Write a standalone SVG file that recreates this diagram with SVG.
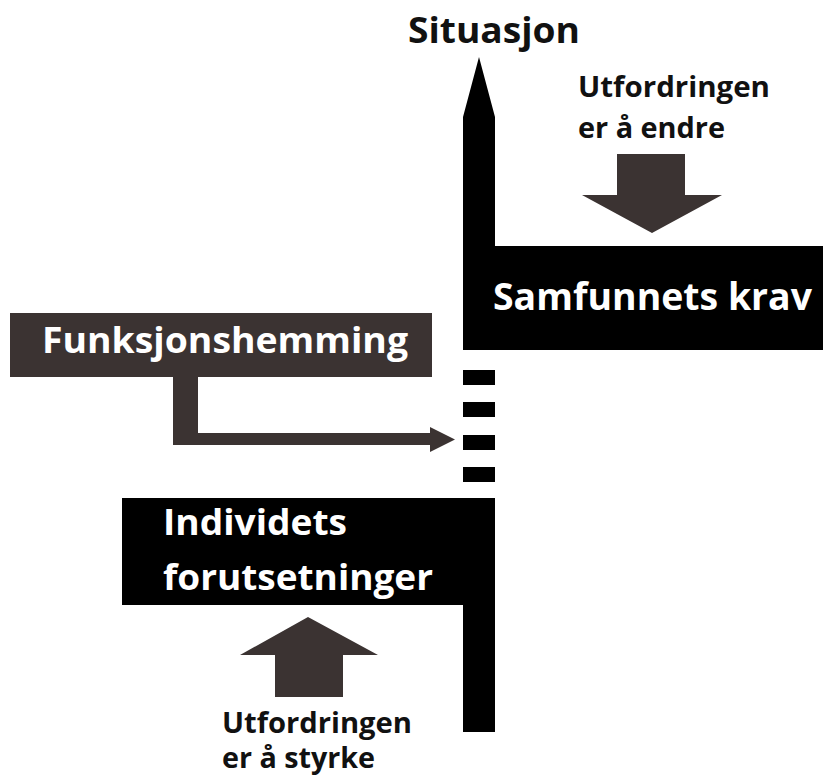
<svg xmlns="http://www.w3.org/2000/svg" width="827" height="783" viewBox="0 0 827 783">
<style>
.blk{fill:#000}
.brn{fill:#3b3332}
.t{font-family:"Open Sans","Liberation Sans",sans-serif;font-weight:bold}
.w{fill:#fff}
.k{fill:#111}
</style>
<rect width="827" height="783" fill="#fff"/>
<g id="situasjon-axis">
<polygon class="blk" points="463,117 479,57 495,117 495,246 823,246 823,350 463,350"/>
<text class="t k" x="408" y="43" font-size="36" textLength="172" lengthAdjust="spacingAndGlyphs">Situasjon</text>
</g>
<g id="samfunnets-krav">
<text class="t w" x="493" y="310" font-size="38" textLength="319" lengthAdjust="spacingAndGlyphs">Samfunnets krav</text>
</g>
<g id="dashes">
<rect class="blk" x="463" y="370" width="32" height="15"/>
<rect class="blk" x="463" y="402" width="32" height="15"/>
<rect class="blk" x="463" y="435" width="32" height="15"/>
<rect class="blk" x="463" y="467" width="32" height="15"/>
</g>
<g id="individets-forutsetninger">
<polygon class="blk" points="122,498 495,498 495,732 463,732 463,605 122,605"/>
<text class="t w" x="163" y="535" font-size="35" textLength="184" lengthAdjust="spacingAndGlyphs">Individets</text>
<text class="t w" x="163" y="590" font-size="35" textLength="270" lengthAdjust="spacingAndGlyphs">forutsetninger</text>
</g>
<g id="funksjonshemming">
<rect class="brn" x="10" y="313" width="422" height="64"/>
<text class="t w" x="42" y="353" font-size="35" textLength="366" lengthAdjust="spacingAndGlyphs">Funksjonshemming</text>
</g>
<g id="utfordring-endre">
<text class="t k" x="578" y="97" font-size="28" textLength="192" lengthAdjust="spacingAndGlyphs">Utfordringen</text>
<text class="t k" x="578" y="138" font-size="28" textLength="147" lengthAdjust="spacingAndGlyphs">er å endre</text>
<polygon class="brn" points="617,154 685,154 685,195 722,195 652,233 582,195 617,195"/>
</g>
<g id="utfordring-styrke">
<polygon class="brn" points="308,617 378,655 343,655 343,697 275,697 275,655 240,655"/>
<text class="t k" x="222" y="733" font-size="28" textLength="190" lengthAdjust="spacingAndGlyphs">Utfordringen</text>
<text class="t k" x="222" y="768" font-size="28" textLength="153" lengthAdjust="spacingAndGlyphs">er å styrke</text>
</g>
<g id="connectors">
<polygon class="brn" points="173,377 198,377 198,433 430,433 430,427 455,439.5 430,452 430,445 173,445"/>
</g>
</svg>
